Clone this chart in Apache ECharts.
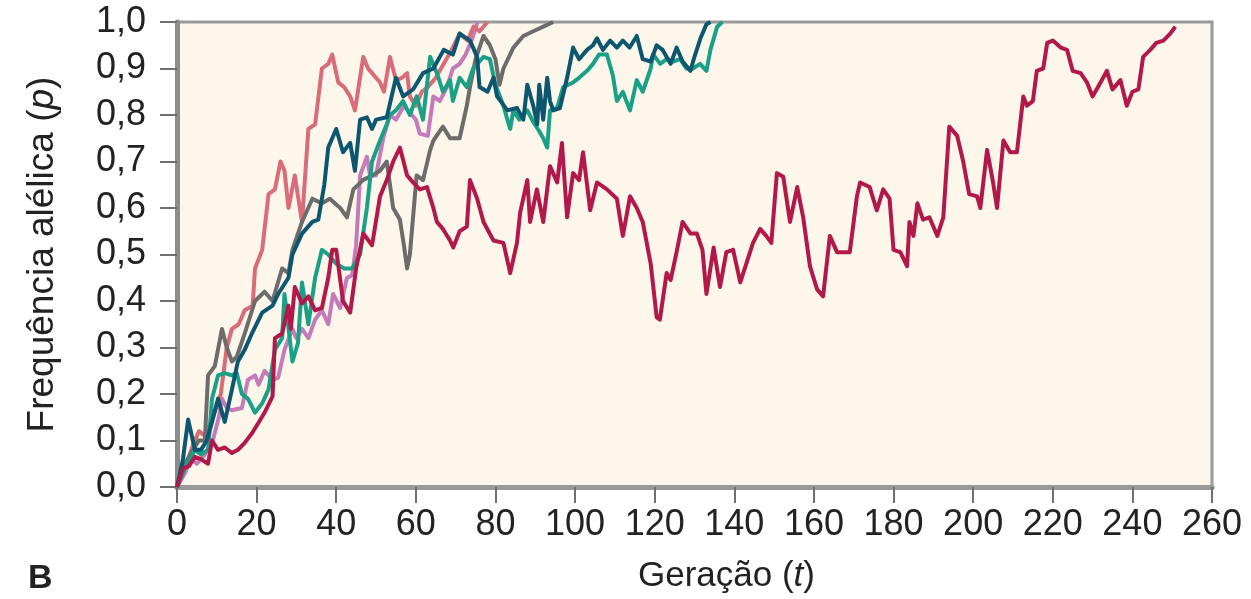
<!DOCTYPE html>
<html>
<head>
<meta charset="utf-8">
<title>Frequência alélica por geração</title>
<script src="https://cdn.jsdelivr.net/npm/echarts@6/dist/echarts.min.js"></script>
<style>
  html, body { margin: 0; padding: 0; background: #ffffff; }
  #chart { width: 1251px; height: 599px; }
</style>
</head>
<body>
<div id="chart"></div>
<script>
// Allele-frequency trajectories (generation t, frequency p), one array per population
const popSalmon = [[0,0],[2,0.04],[4,0.09],[5.5,0.12],[7,0.11],[9,0.15],[11,0.20],[12.5,0.30],[13.8,0.34],[15.5,0.35],[17,0.38],[19,0.39],[19.6,0.47],[21.4,0.51],[23,0.63],[24.6,0.64],[26,0.70],[27,0.68],[28,0.60],[29.6,0.67],[31.4,0.57],[33,0.77],[34.7,0.78],[36.4,0.90],[38,0.91],[39,0.93],[40.5,0.87],[42,0.86],[43.5,0.84],[44.7,0.81],[46.8,0.925],[48,0.90],[49,0.89],[51,0.87],[52,0.85],[53.5,0.925],[55,0.875],[56.5,0.88],[57.8,0.89],[58.5,0.84],[60,0.82],[61.5,0.85],[63,0.86],[65,0.88],[67,0.91],[69,0.94],[71,0.975],[73,0.96],[74.5,0.99],[76,0.98],[78,1.0]];

const popGray = [[0,0],[2,0.05],[4,0.08],[5.5,0.10],[7,0.10],[7.8,0.24],[9.5,0.26],[11.3,0.34],[12.5,0.30],[13.8,0.27],[15,0.28],[17,0.33],[19.6,0.40],[22,0.42],[24,0.40],[26.4,0.47],[28,0.46],[29,0.51],[31.4,0.57],[34,0.62],[36.4,0.61],[38.4,0.62],[41,0.60],[42.7,0.58],[44.3,0.64],[46.7,0.66],[49,0.67],[51,0.68],[52.7,0.70],[54.3,0.60],[56,0.575],[57,0.52],[57.8,0.47],[58.5,0.50],[60.2,0.67],[61.8,0.66],[63.6,0.725],[64.4,0.745],[66.8,0.775],[68.6,0.75],[71,0.75],[72.8,0.82],[73.6,0.86],[75,0.92],[77,0.97],[78.6,0.95],[80,0.92],[81,0.865],[82,0.90],[84.5,0.945],[87,0.97],[89.5,0.98],[92,0.99],[94.5,1.0]];

const popTeal = [[0,0],[1.5,0.06],[2.8,0.145],[4.5,0.08],[6,0.08],[7.5,0.10],[8.8,0.14],[10.3,0.19],[12,0.14],[13.8,0.21],[15.3,0.27],[17,0.295],[18.8,0.33],[21.4,0.375],[24,0.39],[25.4,0.415],[28,0.45],[29,0.50],[31.4,0.545],[34,0.57],[35.5,0.575],[37,0.65],[38,0.73],[39,0.75],[40,0.77],[41.7,0.72],[43.5,0.74],[44.7,0.68],[46,0.79],[47.7,0.795],[49,0.77],[50,0.79],[52.7,0.795],[55,0.88],[56.8,0.84],[59.3,0.855],[61.8,0.89],[64.4,0.90],[67,0.94],[69.3,0.93],[71,0.975],[73.6,0.96],[75.4,0.925],[76,0.86],[78,0.85],[79.5,0.88],[80.4,0.84],[83,0.81],[85.4,0.815],[87,0.79],[88,0.865],[89.5,0.82],[90.5,0.78],[91,0.865],[92,0.79],[93,0.88],[93.7,0.83],[94.5,0.81],[96.2,0.815],[98,0.88],[99.5,0.945],[101,0.92],[103,0.94],[104.5,0.95],[105.5,0.965],[107,0.94],[108.8,0.96],[110.5,0.945],[112,0.96],[113.7,0.945],[115.5,0.97],[117,0.92],[119,0.915],[120.5,0.95],[122,0.94],[124,0.91],[125.5,0.945],[127,0.915],[129,0.895],[129.8,0.92],[131.5,0.965],[133,0.995],[134,1.0]];

const popGreen = [[0,0],[2,0.04],[4.5,0.08],[6,0.07],[7.8,0.08],[8.8,0.19],[10.3,0.24],[12,0.245],[13.8,0.24],[15,0.245],[16.3,0.20],[17.8,0.19],[19.6,0.16],[21.4,0.18],[23,0.21],[24.6,0.295],[26.4,0.32],[27,0.415],[29,0.27],[30.4,0.31],[31.4,0.44],[33,0.35],[34.7,0.45],[36.4,0.51],[38,0.50],[40,0.48],[42,0.47],[44,0.47],[46,0.50],[47.7,0.60],[49,0.70],[51,0.745],[52.7,0.78],[53.5,0.80],[55,0.81],[56.8,0.83],[58.5,0.80],[60.2,0.84],[61.8,0.79],[63.6,0.925],[65.3,0.89],[66.8,0.85],[68.6,0.875],[69.3,0.83],[71,0.88],[72.8,0.86],[74.4,0.90],[77,0.925],[78.6,0.92],[80,0.865],[82,0.82],[83,0.79],[83.7,0.77],[84.5,0.81],[86,0.79],[88,0.81],[89.5,0.785],[91,0.765],[92,0.75],[93,0.73],[93.7,0.81],[95.5,0.815],[97,0.86],[99.5,0.87],[101,0.88],[103,0.895],[104.5,0.91],[106,0.93],[108,0.93],[109.5,0.885],[110.5,0.83],[112,0.85],[113.8,0.81],[115.5,0.875],[117,0.85],[119,0.90],[119.6,0.93],[121.4,0.91],[123,0.92],[124.6,0.915],[126.4,0.92],[128,0.90],[129.6,0.90],[131.4,0.91],[133,0.895],[134,0.94],[135.7,0.99],[137,1.0]];

const popOrchid = [[0,0],[2,0.03],[3.5,0.06],[5,0.05],[7,0.07],[9,0.10],[10.5,0.15],[11.3,0.19],[12.5,0.17],[13.8,0.165],[16.3,0.17],[17.8,0.23],[19.6,0.24],[20.5,0.22],[22,0.25],[24,0.23],[25.4,0.235],[27,0.295],[29,0.34],[30,0.32],[31.4,0.34],[33,0.32],[34.7,0.36],[36.4,0.38],[38,0.35],[39.2,0.415],[41,0.385],[42.7,0.45],[44,0.455],[45,0.52],[46,0.67],[47.7,0.71],[48.5,0.67],[50,0.67],[51.8,0.75],[53.5,0.80],[55,0.79],[57,0.82],[59,0.80],[60,0.79],[61,0.76],[63,0.755],[64.4,0.84],[66,0.83],[67.8,0.86],[69.3,0.90],[71,0.91],[72.5,0.93],[74,0.96],[75.5,1.0]];

const popCrimson = [[0,0],[1.5,0.04],[3,0.045],[4.5,0.065],[6,0.06],[7.8,0.05],[8.8,0.10],[10.3,0.08],[12,0.085],[13.8,0.073],[15.3,0.08],[17,0.095],[18.8,0.115],[20.4,0.137],[22,0.16],[24,0.195],[24.6,0.32],[26.4,0.33],[28,0.39],[28.6,0.34],[29.6,0.43],[31.4,0.395],[33,0.41],[34.7,0.38],[36.4,0.385],[38,0.45],[39,0.51],[40,0.51],[41.7,0.40],[43.5,0.375],[45,0.47],[46.8,0.545],[49,0.52],[51,0.625],[52.7,0.66],[54.3,0.70],[56,0.73],[57.8,0.67],[59.3,0.655],[61,0.64],[62.8,0.645],[64.4,0.60],[65.3,0.57],[66.8,0.555],[68.6,0.53],[69.4,0.515],[71,0.55],[72.8,0.56],[73.6,0.66],[75.4,0.62],[77,0.57],[79.5,0.53],[82,0.525],[83.7,0.46],[85.4,0.525],[86.2,0.59],[88,0.66],[88.7,0.57],[90.4,0.64],[92,0.57],[93.7,0.69],[95.5,0.655],[96.7,0.74],[98,0.58],[99.5,0.675],[101,0.66],[102,0.72],[103.8,0.595],[105.5,0.655],[108,0.64],[110.5,0.62],[112,0.54],[113.8,0.625],[115.5,0.60],[117,0.57],[119,0.48],[120.5,0.365],[121.3,0.36],[123,0.46],[124,0.445],[125.5,0.505],[127,0.57],[129,0.545],[130.6,0.545],[132,0.51],[133,0.415],[134.8,0.515],[136.4,0.43],[138,0.505],[139.7,0.51],[141.5,0.44],[143,0.48],[144.7,0.525],[146.5,0.555],[148,0.54],[149.3,0.525],[150.7,0.675],[152.3,0.667],[154,0.57],[155.8,0.645],[157.3,0.58],[159,0.475],[160.8,0.425],[162.3,0.41],[164,0.54],[165.8,0.505],[169,0.505],[170.8,0.625],[171.6,0.655],[174,0.645],[175.8,0.595],[177.4,0.64],[179,0.62],[180,0.51],[181.7,0.505],[183.4,0.475],[184,0.57],[185,0.54],[186,0.61],[187.4,0.575],[189,0.58],[191,0.54],[192.5,0.58],[194,0.775],[196,0.755],[197.5,0.70],[199,0.63],[201,0.625],[201.8,0.60],[203.5,0.725],[205,0.655],[206,0.60],[207.6,0.745],[209.3,0.72],[211,0.72],[212.6,0.84],[213.5,0.82],[215,0.83],[216,0.895],[217.6,0.90],[218.6,0.955],[220,0.96],[222,0.945],[223.6,0.94],[225,0.895],[227,0.89],[228.6,0.87],[230,0.84],[232,0.87],[233.6,0.895],[235,0.855],[237,0.875],[238.6,0.82],[240,0.85],[241.5,0.855],[242.7,0.925],[244.5,0.94],[246,0.955],[247.8,0.96],[249.5,0.975],[250.8,0.99]];

// Axis ranges and tick steps
const xRange = { min: 0, max: 260, step: 20 };
const yRange = { min: 0, max: 1, step: 0.1 };

const FONT = "'Liberation Sans', Arial, Helvetica, sans-serif";
const TEXT = '#222222';
const AXIS = '#8d8d8d';

const lines = [
  { name: 'pop-orchid',  data: popOrchid,  color: '#c47bb9' },
  { name: 'pop-salmon',  data: popSalmon,  color: '#d96c79' },
  { name: 'pop-gray',    data: popGray,    color: '#6c6c6c' },
  { name: 'pop-green',   data: popGreen,   color: '#19a087' },
  { name: 'pop-teal',    data: popTeal,    color: '#0c5670' },
  { name: 'pop-crimson', data: popCrimson, color: '#b3184b' }
];

const chart = echarts.init(document.getElementById('chart'), null, { renderer: 'canvas' });

chart.setOption({
  animation: false,
  backgroundColor: '#ffffff',
  grid: {
    left: 177, right: 39, top: 22, bottom: 112,
    show: true,
    backgroundColor: '#fdf6ea',
    borderColor: '#9a9a9a',
    borderWidth: 3
  },
  xAxis: [{
    type: 'value',
    min: xRange.min, max: xRange.max, interval: xRange.step,
    name: 'Geração ({i|t})',
    nameLocation: 'middle',
    nameGap: 72,
    nameTextStyle: {
      fontFamily: FONT, fontSize: 35, color: TEXT,
      padding: [0, 0, 0, 64],
      rich: { i: { fontFamily: FONT, fontSize: 35, color: TEXT, fontStyle: 'italic' } }
    },
    axisLine: { show: true, onZero: false, lineStyle: { color: AXIS, width: 5 } },
    axisTick: { show: true, inside: false, length: 16, lineStyle: { color: '#707070', width: 2 } },
    axisLabel: { margin: 20, fontFamily: FONT, fontSize: 36, color: TEXT },
    splitLine: { show: false }
  }, {
    type: 'value', position: 'top',
    min: xRange.min, max: xRange.max,
    axisLine: { show: true, lineStyle: { color: '#999999', width: 5 } },
    axisTick: { show: false }, axisLabel: { show: false }, splitLine: { show: false }
  }],
  yAxis: {
    type: 'value',
    min: yRange.min, max: yRange.max, interval: yRange.step,
    name: 'Frequência alélica ({i|p})',
    nameLocation: 'middle',
    nameGap: 116,
    nameTextStyle: {
      fontFamily: FONT, fontSize: 37, color: TEXT,
      rich: { i: { fontFamily: FONT, fontSize: 37, color: TEXT, fontStyle: 'italic' } }
    },
    axisLine: { show: true, onZero: false, lineStyle: { color: AXIS, width: 5 } },
    axisTick: { show: true, inside: false, length: 17, lineStyle: { color: '#707070', width: 2 } },
    axisLabel: {
      margin: 31, fontFamily: FONT, fontSize: 36, color: TEXT,
      formatter: v => v.toFixed(1).replace('.', ',')
    },
    splitLine: { show: false }
  },
  graphic: [{
    type: 'text',
    left: 28, top: 562,
    style: { text: 'B', fontFamily: FONT, fontSize: 34, fontWeight: 'bold', fill: TEXT }
  }],
  series: lines.map(l => ({
    name: l.name,
    type: 'line',
    data: l.data,
    showSymbol: false,
    symbol: 'none',
    clip: true,
    lineStyle: { color: l.color, width: 4, join: 'round' },
    emphasis: { disabled: true }
  }))
});
</script>
</body>
</html>
